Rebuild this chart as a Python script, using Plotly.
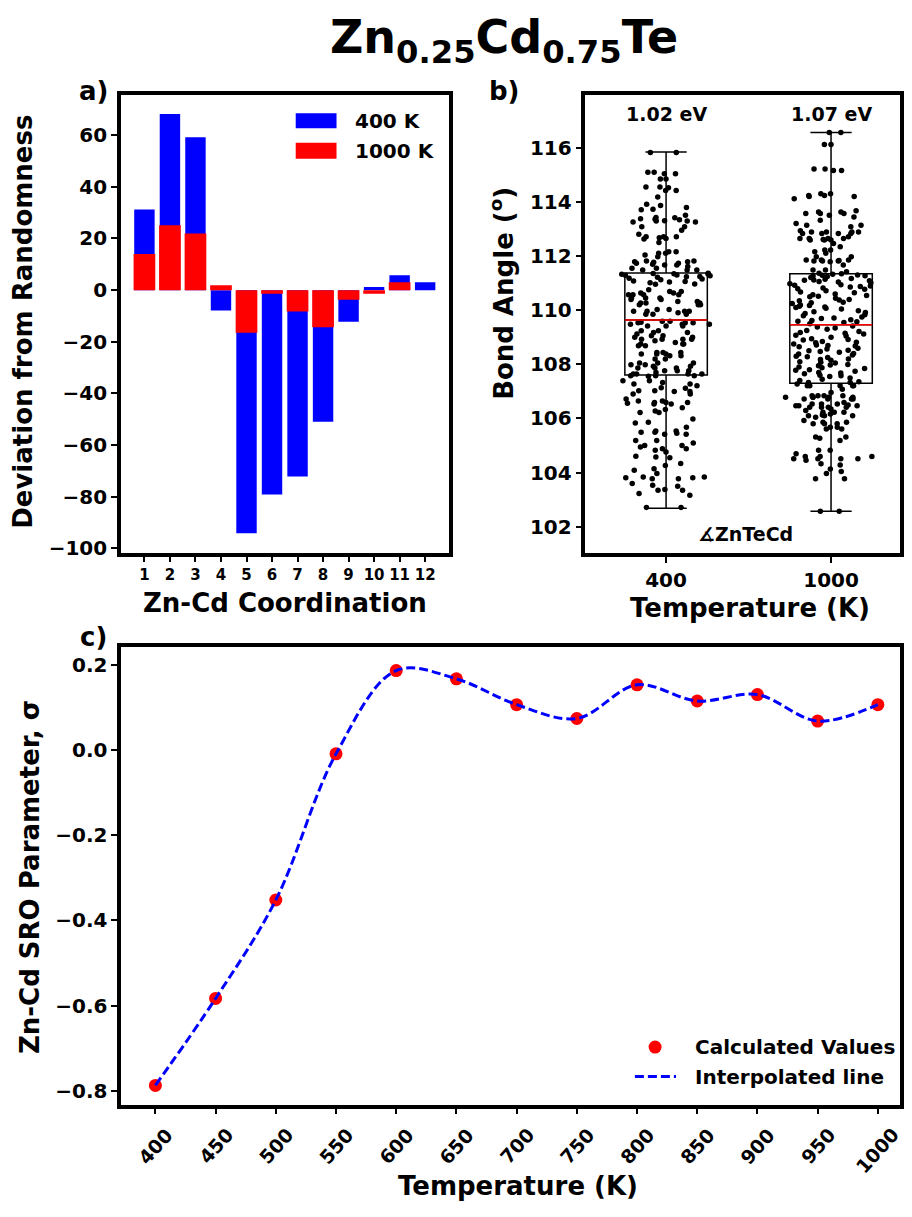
import plotly.graph_objects as go

# ---------------- data ----------------
# panel a
coordination = list(range(1, 13))
dev_400K = [31.2, 68.2, 59.2, -7.9, -94.1, -79.1, -72.2, -51.0, -12.2, 1.2, 5.8, 3.1]
dev_1000K = [14.0, 25.1, 21.9, 1.9, -16.5, -1.4, -8.3, -14.4, -3.7, -1.4, 3.1, 0.0]
legend_a = ["400 K", "1000 K"]

# panel b
temps_b = ["400", "1000"]
band_gaps = ["1.02 eV", "1.07 eV"]
box_q1 = [107.61, 107.30]
box_median = [109.64, 109.47]
box_q3 = [111.38, 111.35]
box_low = [102.68, 102.57]
box_high = [115.86, 116.58]

angles_400K = [
    115.84, 115.84, 115.11, 115.11, 115.05, 115.05, 114.86, 114.86, 114.56, 114.53, 114.43, 114.56, 114.43,
    114.19, 113.92, 113.74, 113.80, 113.72, 113.88, 113.52, 113.27, 113.37, 113.31, 113.43, 113.42, 113.30,
    113.39, 113.30, 113.27, 113.35, 113.09, 112.96, 112.68, 112.72, 112.66, 112.72, 112.81, 112.72, 112.51,
    112.64, 113.09, 111.98, 112.17, 112.11, 112.05, 112.11, 112.17, 111.74, 111.62, 111.68, 111.80, 111.74,
    111.82, 111.68, 111.49, 111.70, 111.78, 111.82, 111.80, 111.56, 111.49, 111.56, 111.49,
    111.37, 111.31, 111.33, 111.25, 111.36, 111.28, 111.22, 111.35, 111.30, 111.34, 110.96, 111.08, 111.02,
    111.19, 111.13, 111.07, 111.05, 111.24, 110.97, 111.16,
    110.58, 110.76, 110.46, 110.70, 110.46, 110.58, 110.64, 110.58, 110.70, 110.58, 110.46, 110.64, 110.27,
    110.27, 110.21, 110.33, 110.27, 110.33, 110.21, 110.21, 110.40, 110.40,
    110.03, 109.91, 109.85, 109.97, 109.85, 109.97, 110.03, 109.97, 109.97, 109.85, 109.54, 109.48, 109.60,
    109.54, 109.48, 109.54, 109.56, 109.48, 109.60, 109.42, 109.42, 109.42,
    109.06, 109.00, 108.93, 109.00, 109.18, 108.93, 109.06, 108.93, 109.12, 108.93, 108.69, 108.75, 108.87,
    108.75, 108.69, 108.75, 108.81, 109.18, 109.24, 109.24,
    108.44, 108.44, 108.38, 108.32, 108.20, 108.38, 108.44, 108.32, 108.20, 108.38, 108.05, 107.99, 107.93,
    107.87, 107.99, 108.05, 107.93, 107.87, 108.05, 107.87,
    107.64, 107.70, 107.58, 107.64, 107.76, 107.58, 107.64, 107.76, 107.58, 107.64, 107.76, 107.56,
    107.39, 107.14, 107.12, 107.33, 107.27, 107.21, 107.02, 107.27, 107.00, 107.39, 107.00, 107.02, 106.59,
    106.65, 106.72, 106.65, 106.59, 106.56, 106.53, 106.59, 106.90, 106.90, 106.22, 105.98, 105.86, 106.33,
    106.22, 106.53, 106.28, 105.83, 105.54, 105.45, 105.67, 105.42, 105.49, 105.42, 105.54, 105.49, 106.40,
    105.18, 105.09, 104.82, 104.94, 105.00, 105.18, 104.88, 105.00, 104.33, 104.55, 104.57, 104.60, 104.88,
    104.26, 104.76, 104.08, 103.77, 103.96, 103.83, 103.81, 104.14, 103.83, 103.81, 103.59, 103.53, 103.37,
    103.22, 103.34, 103.49, 103.34, 103.16, 103.77, 102.71, 102.71,
]

angles_1000K = [
    116.58, 116.58, 116.13, 116.13, 115.23, 115.23, 115.17, 115.17,
    114.25, 114.21, 114.31, 114.13, 114.25, 114.21, 114.31,
    113.58, 113.58, 113.45, 113.64, 113.58, 113.64, 113.68, 113.15, 113.21, 113.15, 112.90, 113.52, 113.33,
    112.90, 112.94, 112.66, 112.90, 112.84, 112.60, 112.72, 113.09, 112.84, 112.66, 112.84, 112.90, 112.84,
    112.60, 112.47, 112.60, 112.62, 112.66, 112.66, 112.23, 112.23, 112.11, 112.17, 112.35,
    111.82, 111.82, 111.86, 111.98, 111.82, 111.86, 111.80, 111.98, 111.86, 111.84, 111.37, 111.49, 111.43,
    111.49, 111.68,
    111.33, 111.30, 111.27, 111.35, 111.21, 111.25, 111.31, 111.18, 111.28, 111.12, 111.05, 111.09, 111.15,
    110.98, 111.02, 110.95, 111.07, 110.90, 110.86, 110.93, 110.80, 110.83, 110.88, 110.78, 111.11,
    110.72, 110.65, 110.60, 110.68, 110.55, 110.50, 110.58, 110.45, 110.40, 110.52, 110.35, 110.30, 110.38,
    110.25, 110.20, 110.28, 110.15, 110.10, 110.18, 110.05, 110.12, 110.08,
    109.98, 109.92, 109.88, 109.95, 109.80, 109.75, 109.84, 109.70, 109.65, 109.60, 109.72, 109.55, 109.50,
    109.62, 109.58,
    109.42, 109.35, 109.30, 109.38, 109.25, 109.18, 109.22, 109.12, 109.05, 109.15, 109.00, 108.95, 109.08,
    108.90, 108.85, 108.92, 108.80, 108.75, 108.82, 108.70, 108.65, 108.72, 108.60, 108.57, 108.68,
    108.52, 108.48, 108.45, 108.40, 108.50, 108.35, 108.30, 108.38, 108.25, 108.20, 108.28, 108.15, 108.10,
    108.18, 108.05, 108.00, 108.08, 107.95, 107.90, 107.98, 107.85, 107.80, 107.88, 107.75, 107.70, 107.78,
    107.65, 107.60, 107.68, 107.55, 107.50, 107.45, 107.40, 107.36, 107.58,
    107.21, 107.08, 107.21, 107.21, 107.27, 107.21, 107.33, 107.21, 107.33, 106.96, 106.84,
    106.78, 106.78, 106.84, 106.72, 106.78, 106.84, 106.78, 106.72, 106.72, 106.78, 106.84, 106.72,
    106.47, 106.53, 106.53, 106.47, 106.50, 106.41, 106.41, 106.35, 106.41, 106.47, 106.41, 106.59, 106.53,
    106.23, 106.13, 106.10, 106.04, 106.16, 106.10, 106.23, 106.23, 106.10, 106.29,
    105.80, 105.67, 105.61, 105.92, 105.86, 105.80, 105.86, 105.67, 105.80,
    105.31, 105.27, 105.31, 105.61, 105.18, 104.82, 104.51, 104.59, 104.51, 104.51, 104.69, 104.82, 104.59,
    104.51, 104.32, 104.28, 104.13, 104.04, 103.96, 104.45, 104.59, 103.77, 103.77, 102.57, 102.57,
]

# panel c
temperature_c = [400, 450, 500, 550, 600, 650, 700, 750, 800, 850, 900, 950, 1000]
sro_values = [-0.787, -0.583, -0.352, -0.009, 0.1865, 0.167, 0.1065, 0.074, 0.153, 0.115, 0.130, 0.068, 0.1065]
legend_c = ["Calculated Values", "Interpolated line"]

# ---------------- layout helpers ----------------
# the page body adds an 8 px margin on every side; keep the page exactly 912 x 1217
OFF = 8
W, H = 912 - 2 * OFF, 1217 - 2 * OFF


def px(x):
    return (x - OFF) / W


def py(y):
    return 1 - (y - OFF) / H


BLUE = "#0000ff"
RED = "#ff0000"
FONT = "DejaVu Sans"

fig = go.Figure()

# panel a bars
fig.add_trace(go.Bar(x=coordination, y=dev_400K, marker=dict(color=BLUE, line=dict(width=0)),
                     width=0.8, xaxis="x", yaxis="y", showlegend=False, name=legend_a[0]))
fig.add_trace(go.Bar(x=coordination, y=dev_1000K, marker=dict(color=RED, line=dict(width=0)),
                     width=0.85, xaxis="x", yaxis="y", showlegend=False, name=legend_a[1]))

# panel b points (split into value bands so the jitter fills the box width everywhere)
for t, vals, q1, q3 in zip(temps_b, [angles_400K, angles_1000K], box_q1, box_q3):
    edges = [(113.0, 1e9), (q3, 113.0), (q1, q3), (105.0, q1), (-1e9, 105.0)]
    for lo, hi in edges:
        sub = [v for v in vals if lo <= v < hi]
        if not sub:
            continue
        fig.add_trace(go.Box(x=[t] * len(sub), y=sub, boxpoints="all", jitter=1, pointpos=0,
                             width=0.56, marker=dict(color="black", size=5.5),
                             line=dict(width=0, color="rgba(0,0,0,0)"), fillcolor="rgba(0,0,0,0)",
                             xaxis="x2", yaxis="y2", showlegend=False, hoverinfo="skip"))
# panel b boxes
fig.add_trace(go.Box(x=temps_b, q1=box_q1, median=box_median, q3=box_q3,
                     lowerfence=box_low, upperfence=box_high, boxpoints=False,
                     width=0.5, whiskerwidth=0.5, line=dict(color="black", width=1.5),
                     fillcolor="rgba(0,0,0,0)", xaxis="x2", yaxis="y2", showlegend=False))
fig.add_trace(go.Box(x=temps_b, q1=box_median, median=box_median, q3=box_median,
                     lowerfence=box_median, upperfence=box_median, boxpoints=False,
                     width=0.5, whiskerwidth=0, line=dict(color=RED, width=1.5),
                     fillcolor="rgba(0,0,0,0)", xaxis="x2", yaxis="y2", showlegend=False))

# panel c
fig.add_trace(go.Scatter(x=temperature_c, y=sro_values, mode="markers",
                         marker=dict(color=RED, size=13), xaxis="x3", yaxis="y3",
                         showlegend=False, name=legend_c[0]))
fig.add_trace(go.Scatter(x=temperature_c, y=sro_values, mode="lines",
                         line=dict(color=BLUE, width=3, dash="9px,4px", shape="spline", smoothing=1),
                         xaxis="x3", yaxis="y3", showlegend=False, name=legend_c[1]))

axis_common = dict(showline=True, linecolor="black", linewidth=3.5, mirror=True,
                   ticks="outside", ticklen=6, tickwidth=1.6, tickcolor="black",
                   showgrid=False, zeroline=False)

fig.update_layout(
    width=W, height=H,
    margin=dict(l=0, r=0, t=0, b=0),
    paper_bgcolor="white", plot_bgcolor="white",
    font=dict(family=FONT, size=20, color="black", weight="bold"),
    barmode="overlay", boxmode="overlay",
    showlegend=False,
    xaxis=dict(domain=[px(121.4), px(450.6)], anchor="y", range=[0.078, 12.92],
               tickvals=coordination, tickfont=dict(size=15), **axis_common),
    yaxis=dict(domain=[py(556.3), py(96)], anchor="x", range=[-101.65, 75.4],
               tickvals=[-100, -80, -60, -40, -20, 0, 20, 40, 60], tickfont=dict(size=20), **axis_common),
    xaxis2=dict(domain=[px(588), 1.0], anchor="y2", type="category", range=[-0.489, 1.418],
                tickfont=dict(size=20), **axis_common),
    yaxis2=dict(domain=[py(557), py(96)], anchor="x2", range=[101.01, 117.95],
                tickvals=[102, 104, 106, 108, 110, 112, 114, 116], tickfont=dict(size=20), **axis_common),
    xaxis3=dict(domain=[px(121.7), 1.0], anchor="y3", range=[371.6, 1018.4],
                tickvals=temperature_c, showticklabels=False, **axis_common),
    yaxis3=dict(domain=[py(1112), py(651.7)], anchor="x3", range=[-0.8322, 0.2408],
                tickvals=[-0.8, -0.6, -0.4, -0.2, 0.0, 0.2], tickformat=".1f",
                tickfont=dict(size=20), **axis_common),
)

ann = []


def text(x, y, s, size=26, angle=0, xanchor="center", yanchor="middle", xref="paper", yref="paper"):
    ann.append(dict(x=x, y=y, text=s, showarrow=False, xref=xref, yref=yref,
                    xanchor=xanchor, yanchor=yanchor, textangle=angle,
                    font=dict(family=FONT, size=size, color="black", weight="bold")))


# title
text(px(506), py(8), "Zn<sub>0.25</sub>Cd<sub>0.75</sub>Te", size=46, yanchor="top")
# panel labels
text(px(94), py(92), "a)", size=26)
text(px(507), py(92), "b)", size=26)
text(px(94), py(641), "c)", size=26)
# axis titles
text(px(23), py(324), "Deviation from Randomness", size=26, angle=-90)
text(px(286), py(607), "Zn-Cd Coordination", size=26)
text(px(504), py(295), "Bond Angle (<sup>o</sup>)", size=26, angle=-90)
text(px(753), py(612), "Temperature (K)", size=26)
text(px(30), py(883), "Zn-Cd SRO Parameter, σ", size=26, angle=-90)
text(px(520), py(1194), "Temperature (K)", size=26)
# panel b labels (category positions 0 and 1)
for i, g in enumerate(band_gaps):
    text(i, 117.25, g, size=19, xref="x2", yref="y2")
text(0.483, 101.71, "∡ZnTeCd", size=19, xref="x2", yref="y2")
# panel c rotated tick labels
for t in temperature_c:
    text(t, py(1128), str(t), size=19, angle=-48, yanchor="top", xref="x3", yref="paper")
# legend a
text(px(355), py(121.5), legend_a[0], size=20, xanchor="left")
text(px(355), py(151.7), legend_a[1], size=20, xanchor="left")
# legend c
text(px(696), py(1054), legend_c[0], size=20, xanchor="left")
text(px(696), py(1084), legend_c[1], size=20, xanchor="left")

fig.update_layout(annotations=ann)

shapes = [
    dict(type="rect", xref="paper", yref="paper", x0=px(297), x1=px(338), y0=py(129), y1=py(114),
         fillcolor=BLUE, line=dict(width=0)),
    dict(type="rect", xref="paper", yref="paper", x0=px(297), x1=px(338), y0=py(159.7), y1=py(143.7),
         fillcolor=RED, line=dict(width=0)),
    dict(type="circle", xref="paper", yref="paper", xsizemode="pixel", ysizemode="pixel",
         xanchor=px(658), yanchor=py(1054), x0=-6.5, x1=6.5, y0=-6.5, y1=6.5,
         fillcolor=RED, line=dict(width=0)),
    dict(type="line", xref="paper", yref="paper", x0=px(637.7), x1=px(679), y0=py(1083.7), y1=py(1083.7),
         line=dict(color=BLUE, width=3, dash="9px,4px")),
]
fig.update_layout(shapes=shapes)

fig.write_html("out.html")
